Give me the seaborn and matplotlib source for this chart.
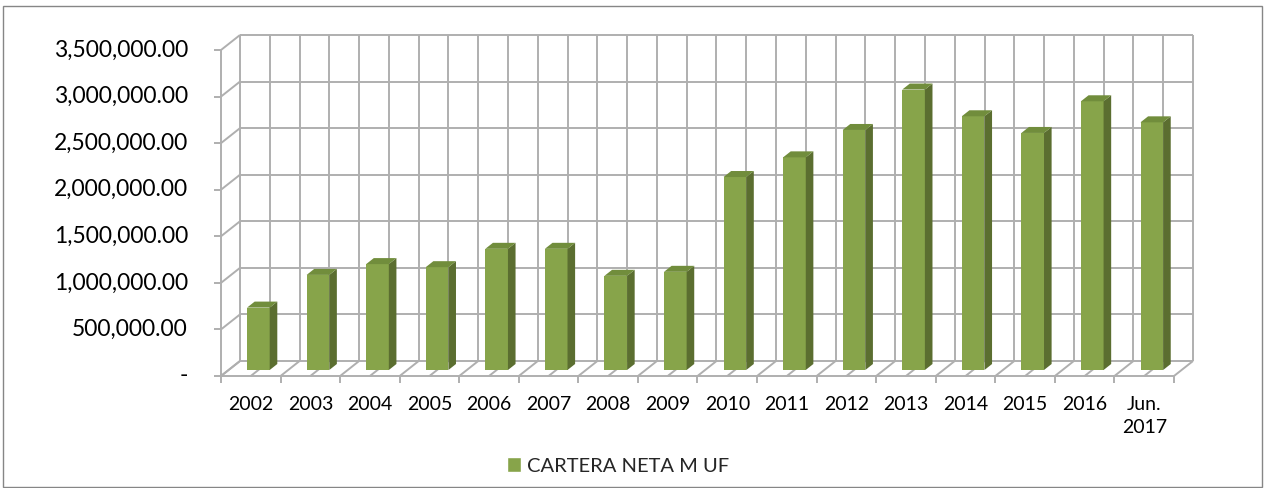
#! /bin/env python3

''' Cartera neta M UF, 2002 - Jun. 2017, drawn as an Excel style 3-D column chart '''

import numpy as np
import matplotlib
matplotlib.use("Agg")
import matplotlib.pyplot as plt
import seaborn as sns
from matplotlib.lines import Line2D
from matplotlib.patches import Polygon, Rectangle, Patch
from matplotlib.transforms import IdentityTransform

years = ["2002", "2003", "2004", "2005", "2006", "2007", "2008", "2009",
         "2010", "2011", "2012", "2013", "2014", "2015", "2016", "Jun.\n2017"]
cartera = [670000, 1021000, 1137000, 1104000, 1301000, 1301000, 1011000, 1054000,
           2072000, 2283000, 2577000, 3011000, 2724000, 2545000, 2885000, 2659000]
y_ticks = [0, 500000, 1000000, 1500000, 2000000, 2500000, 3000000, 3500000]
y_tick_labels = ["-", "500,000.00", "1,000,000.00", "1,500,000.00", "2,000,000.00",
                 "2,500,000.00", "3,000,000.00", "3,500,000.00"]
series_name = "CARTERA NETA M UF"

FRONT = "#87A44A"
SIDE = "#5B6E30"
TOP = "#718D3C"
GRID = "#AFAFAF"

W, H = 1264, 488
DX, DY = 19, 15      # pixel shift from the front plane to the back wall
BAR_D, BAR_DEPTH = 0.4, 0.4

sns.set_theme(style="white")
plt.rcParams["font.family"] = ["Lato", "DejaVu Sans"]

fig = plt.figure(figsize=(W / 100, H / 100), dpi=100)
# axes = plane of the bar front faces (bars sit 40% deep in the box)
ax = fig.add_axes([(221 + DX * BAR_D) / W, (H - 376 + DY * BAR_D) / H, 953 / W, 326 / H])
ax.set_axis_off()

sns.barplot(x=list(range(len(years))), y=cartera, color=FRONT, saturation=1,
            width=0.38, linewidth=0, ax=ax, zorder=3)
n = len(years)
ax.set_xlim(-0.5, n - 0.5)
ax.set_ylim(0, y_ticks[-1])


def to_px(x, y, d):
    px, py = ax.transData.transform((x, y))
    return px + DX * (d - BAR_D), py + DY * (d - BAR_D)


def seg(p0, p1, color=GRID, lw=1.4):
    ax.add_line(Line2D([p0[0], p1[0]], [p0[1], p1[1]], color=color, lw=lw,
                       transform=IdentityTransform(), clip_on=False, zorder=1,
                       solid_capstyle="butt"))


x_lo, x_hi = -0.5, n - 0.5
half_steps = np.arange(x_lo, x_hi + 0.01, 0.5)

# back wall
for yv in y_ticks:
    seg(to_px(x_lo, yv, 1), to_px(x_hi, yv, 1))
for xv in half_steps:
    seg(to_px(xv, 0, 1), to_px(xv, y_ticks[-1], 1))

# left wall and y axis
seg(to_px(x_lo, 0, 0), to_px(x_lo, y_ticks[-1], 0))
for yv, lab in zip(y_ticks, y_tick_labels):
    seg(to_px(x_lo, yv, 0), to_px(x_lo, yv, 1))
    px, py = to_px(x_lo, yv, 0)
    seg((px - 7, py), (px, py))
    ax.text(px - 33, py, lab, transform=IdentityTransform(), ha="right", va="center",
            fontsize=16.5, color="black")

# floor and x axis
seg(to_px(x_lo, 0, 0), to_px(x_hi, 0, 0))
for xv in half_steps:
    seg(to_px(xv, 0, 0), to_px(xv, 0, 1))
for xv in np.arange(x_lo, x_hi + 0.01, 1.0):
    px, py = to_px(xv, 0, 0)
    seg((px, py), (px, py - 7))
for i, lab in enumerate(years):
    px, py = to_px(i, 0, 0)
    ax.text(px, py - 20, lab, transform=IdentityTransform(), ha="center", va="top",
            multialignment="center", linespacing=1.4, fontsize=14, color="black")

# side and top faces of the columns
for p in list(ax.patches):
    x0, x1, h = p.get_x(), p.get_x() + p.get_width(), p.get_height()
    d0, d1 = BAR_D, BAR_D + BAR_DEPTH
    side = [to_px(x1, 0, d0), to_px(x1, h, d0), to_px(x1, h, d1), to_px(x1, 0, d1)]
    top = [to_px(x0, h, d0), to_px(x1, h, d0), to_px(x1, h, d1), to_px(x0, h, d1)]
    ax.add_patch(Polygon(side, closed=True, facecolor=SIDE, edgecolor="none",
                         transform=IdentityTransform(), clip_on=False, zorder=3))
    ax.add_patch(Polygon(top, closed=True, facecolor=TOP, edgecolor="none",
                         transform=IdentityTransform(), clip_on=False, zorder=3))

fig.legend(handles=[Patch(facecolor=FRONT, label=series_name)], loc="center left",
           bbox_to_anchor=(507 / W, 1 - 466 / H), frameon=False, fontsize=14.5,
           handlelength=0.7, handleheight=0.7, handletextpad=0.3,
           borderpad=0, borderaxespad=0)

fig.add_artist(Rectangle((3 / W, 1 / H), 1259 / W, 481 / H, fill=False,
                         edgecolor="#868686", lw=1, transform=fig.transFigure))

fig.savefig("out.png", dpi=100)
